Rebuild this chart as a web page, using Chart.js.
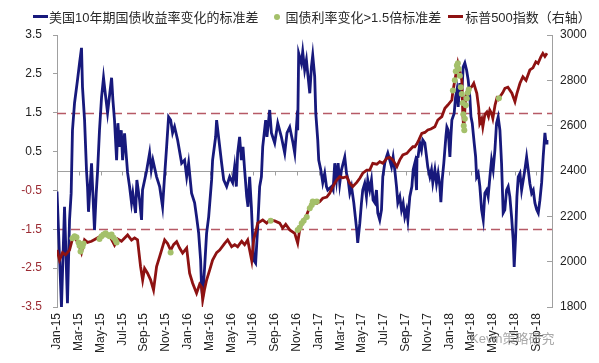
<!DOCTYPE html>
<html>
<head>
<meta charset="utf-8">
<script src="https://cdn.jsdelivr.net/npm/chart.js@4.4.1/dist/chart.umd.min.js"></script>
<style>
  body { margin: 0; background: #fff; }
  #wrap { position: relative; width: 599px; height: 363px; }
  #legend {
    position: absolute; top: 7px; left: 33px;
    display: flex; align-items: center;
    font: 13px "Liberation Sans", Arial, "Noto Sans CJK SC", sans-serif; color: #2a2a2a;
    white-space: nowrap;
  }
  #legend .item { display: flex; align-items: center; }
  #legend .line { display: inline-block; width: 15px; height: 3px; margin-right: 1px; }
  #legend .dot { display: inline-block; width: 6px; height: 6px; border-radius: 50%; margin: 0 5px 0 16px; }
  #legend .line.spx { margin-left: 7px; margin-right: 2px; }
  #mark {
    position: absolute; left: 470px; top: 328px;
    font: 13px "Liberation Sans", Arial, "Noto Sans CJK SC", sans-serif; color: rgba(140,140,140,0.75);
  }
</style>
</head>
<body>
<div id="wrap">
  <canvas id="chart" width="599" height="363"></canvas>
  <div id="legend"></div>
  <div id="mark">Kevin策略研究</div>
</div>
<script>
// months since Jan-2015
const monthLabels = ["Jan-15","Mar-15","May-15","Jul-15","Sep-15","Nov-15","Jan-16","Mar-16","May-16","Jul-16","Sep-16","Nov-16",
    "Jan-17","Mar-17","May-17","Jul-17","Sep-17","Nov-17","Jan-18","Mar-18","May-18","Jul-18","Sep-18"];
const leftTicks = [-3.5, -2.5, -1.5, -0.5, 0.5, 1.5, 2.5, 3.5];
const bandLevels = [1.5, -1.5];

const seriesNames = ["美国10年期国债收益率变化的标准差", "国债利率变化>1.5倍标准差", "标普500指数（右轴）"];

// 美国10年期国债收益率变化的标准差
const stdT = [0,0.41,0.69,0.96,1.15,1.30,1.42,1.61,1.88,2.07,2.25,2.34,2.53,2.71,2.80,2.89,3.17,3.29,3.44,3.60,3.72,3.90,4.09,4.27,4.43,4.64,
    5.01,5.13,5.28,5.47,5.59,5.74,5.90,6.02,6.20,6.48,6.66,6.84,6.96,7.21,7.33,7.58,7.76,7.85,8.22,8.50,8.65,8.80,9.14,9.42,9.69,9.87,
    10.06,10.24,10.43,10.61,10.79,11.07,11.44,11.71,11.90,12.08,12.35,12.63,12.81,13.00,13.18,13.27,13.37,13.55,13.73,13.92,14.19,14.28,
    14.56,14.65,14.86,15.11,15.30,15.57,15.85,16.12,16.30,16.46,16.58,16.76,16.92,17.07,17.22,17.41,17.53,17.68,17.84,18.05,18.23,18.42,
    18.60,18.76,18.88,19.15,19.27,19.52,19.68,19.98,20.26,20.59,20.90,21.11,21.36,21.66,21.82,22.00,22.09,22.18,22.27,22.43,22.55,22.73,
    22.89,23.01,23.20,23.35,23.47,23.65,23.75,23.93,24.02,24.21,24.39,24.57,24.73,24.85,25.19,25.34,25.49,25.65,25.80,25.95,26.11,26.41,
    26.57,26.72,26.87,27.03,27.24,27.51,27.60,27.79,27.94,28.06,28.24,28.40,28.52,28.70,28.86,29.01,29.17,29.32,29.44,29.62,29.78,29.90,
    30.08,30.24,30.36,30.54,30.70,30.85,31.00,31.16,31.28,31.46,31.62,31.77,31.92,32.08,32.20,32.38,32.57,32.69,32.84,33.00,33.04,33.14,
    33.30,33.45,33.57,33.76,33.92,34.03,34.22,34.37,34.49,34.68,34.83,34.98,35.14,35.23,35.35,35.50,35.69,35.78,35.90,36.06,36.15,36.24,
    36.45,36.58,36.70,36.82,36.97,37.13,37.28,37.43,37.59,37.74,37.89,37.99,38.11,38.29,38.42,38.51,38.66,38.81,38.97,39.12,39.27,39.43,
    39.57,39.73,39.88,40.03,40.19,40.34,40.49,40.65,40.80,40.95,41.10,41.26,41.41,41.56,41.72,41.87,41.96,42.09,42.21,42.33,42.49,42.64,
    42.79,42.94,43.10,43.25,43.40,43.56,43.71,43.86,44.02,44.17,44.32,44.48,44.62,44.78,44.88,44.97];
const stdV = [-0.53,-3.5,-0.92,-3.4,-1.26,-0.57,1.05,1.75,2.34,2.78,3.17,2.16,1.31,0,-0.4,-1.05,0.2,-0.57,-1.52,-0.57,-0.03,1.05,1.9,2.4,2.0,1.5,
    2.4,1.83,1.3,0.28,1.23,0.62,1.05,0.28,0.97,-0.05,-0.4,-0.82,-0.57,-1.08,-0.23,-0.75,-1.26,-0.49,0,0.46,0.03,0.28,-0.15,-0.4,-0.92,-0.15,
    0.62,1.39,1.31,0.98,1.14,0.8,0.2,0.28,-0.15,0.2,-0.57,-0.82,-1.18,-1.6,-2.29,-2.98,-3.24,-2.47,-1.6,-1.18,-0.23,0.28,
    0.88,1.31,0.8,0.2,-0.23,-0.4,-0.15,-0.3,0.11,-0.4,0.46,0.88,0.28,0.62,0.03,-0.66,-0.92,-0.15,-0.92,-2.29,-2.37,-1.44,
    -0.4,-0.15,0.62,1.31,0.88,1.57,0.98,0.72,1.23,0.88,0.46,0.98,1.13,0.72,0.46,1.23,1.05,3.03,2.94,2.77,3.07,2.6,
    2.86,2.52,2.0,2.68,2.98,2.43,1.49,0.8,0.28,0.03,-0.3,-0.06,-0.4,-0.49,-0.4,-0.49,0.2,-0.23,0.2,-0.32,0.03,0.36,
    -0.06,-0.23,-0.57,-0.4,-0.82,-1.52,-1.85,-1.35,-0.83,-0.49,-0.32,-0.66,-0.23,-0.49,-0.23,-0.75,-0.82,-0.49,-1.08,-1.26,-1.0,-0.15,
    0.2,0.36,0.46,0.28,0.11,0.36,0.03,-0.4,-0.82,-0.66,-1.0,-0.83,-1.18,-1.0,-1.26,-0.66,-0.4,0.03,0.2,-0.49,0.36,0.37,
    0.72,0.54,0.8,0.72,0.36,0.1,-0.15,0.03,-0.3,0.03,-0.32,-0.06,-0.4,-0.8,-0.23,0.2,0.88,1.13,1.05,0.36,0.88,1.31,
    1.48,1.9,2.08,1.65,2.26,1.9,2.68,2.78,2.6,2.34,1.9,1.4,1.23,0.72,0.37,-0.15,-0.06,-0.4,-1.0,-1.26,-0.57,-0.49,
    -0.66,-0.15,0.28,0.03,0.54,1.23,1.39,1.05,0.2,-1.08,-1.0,-0.49,-0.4,-0.66,-1.18,-1.78,-2.47,-1.69,-0.66,-0.15,-0.06,-0.49,
    -0.23,0.03,0.36,0.03,-0.32,-0.57,-0.49,-0.82,-0.99,-1.08,-0.75,-0.3,0.36,0.98,0.72,0.8];

// 标普500指数
const spxT = [0,0.23,0.51,0.78,1.15,1.42,1.61,1.79,2.07,2.25,2.53,2.80,3.17,3.54,3.90,4.36,4.82,5.28,5.56,5.92,6.48,6.84,7.12,7.39,7.67,
    7.86,8.04,8.31,8.59,8.86,9.14,9.42,9.88,10.15,10.43,10.70,10.98,11.25,11.53,11.90,12.17,12.45,12.81,13.09,13.27,13.37,13.55,13.73,
    14.01,14.28,14.65,14.93,15.39,15.66,16.03,16.31,16.58,16.95,17.22,17.50,17.87,18.05,18.23,18.42,18.88,19.24,19.52,19.98,20.44,20.71,
    20.99,21.36,21.82,22.09,22.27,22.55,22.92,23.20,23.47,23.84,24.11,24.39,24.76,25.03,25.31,25.67,25.95,26.23,26.59,26.87,27.14,27.51,
    27.79,28.06,28.43,28.70,28.98,29.35,29.62,29.90,30.27,30.54,30.82,31.19,31.46,31.74,32.11,32.38,32.66,32.84,33.03,33.21,33.48,33.76,
    34.03,34.31,34.68,34.95,35.32,35.60,35.87,36.24,36.33,36.79,37.15,37.24,37.33,37.43,37.52,37.70,38.07,38.25,38.53,38.70,38.80,38.98,
    39.08,39.27,39.45,39.60,39.72,39.88,40.00,40.20,40.37,40.50,40.65,40.90,41.11,41.38,41.75,42.03,42.20,42.49,42.76,43.05,43.40,43.68,
    43.95,44.15,44.41,44.59,44.78,44.97];
const spxV = [2052,2007,2040,2030,2051,2100,2110,2095,2066,2040,2096,2085,2090,2100,2110,2125,2115,2073,2100,2090,2118,2095,2105,2096,1978,
    1919,1970,1949,1920,1875,1978,2022,2096,2080,2050,2075,2088,2060,2038,2060,1949,1905,1861,1900,1888,1831,1880,1919,
    1963,2007,2040,2051,2081,2096,2066,2075,2066,2090,2075,2096,2005,2096,2130,2170,2184,2170,2184,2180,2170,2148,
    2165,2140,2125,2082,2140,2176,2206,2243,2265,2257,2265,2280,2285,2302,2331,2360,2375,2370,2375,2346,2331,2350,
    2368,2390,2404,2404,2434,2430,2441,2434,2456,2460,2449,2419,2449,2471,2478,2493,2507,2507,2520,2537,2566,2570,
    2581,2585,2595,2625,2640,2677,2691,2713,2750,2875,2801,2656,2581,2670,2730,2757,2772,2787,2743,2680,2610,2630,
    2595,2650,2660,2640,2669,2655,2632,2690,2721,2715,2728,2745,2765,2770,2743,2706,2740,2787,2816,2800,2846,2855,
    2882,2875,2904,2919,2905,2919];

// 国债利率变化>1.5倍标准差 (点落在标普500上)
const jumpT = [1.42,1.61,1.79,1.98,2.07,2.16,2.34,2.43, 3.90,4.09,4.27,4.46,4.64,4.82,5.01,5.19,5.37,5.47, 10.43, 19.61,
    22.09,22.27,22.46,22.64,22.92,23.20,23.38,23.47,23.65,23.84,
    36.33,36.51,36.60,36.70,36.79,36.88,36.97,37.06,37.15,37.24,37.29,37.33,37.38,37.43,37.52,37.61,37.70,37.79, 40.56];
const jumpV = [2103,2112,2108,2085,2070,2045,2066,2080, 2100,2112,2120,2125,2118,2112,2120,2105,2095,2085, 2040, 2180,
    2140,2150,2170,2180,2197,2236,2250,2265,2262,2265,
    2755,2800,2840,2865,2875,2850,2820,2770,2740,2700,2650,2600,2580,2630,2690,2720,2745,2760, 2721];

const colors = { std: "#17197c", jump: "#a4c06a", spx: "#8e1212" };

function pairs(t, v) {
    return t.map((x, i) => ({ x: x, y: v[i] }));
}

// legend
let legend = document.getElementById("legend");
legend.innerHTML = `
    <span class="item"><span class="line" style="background:${colors.std}"></span>${seriesNames[0]}</span>
    <span class="item"><span class="dot" style="background:${colors.jump}"></span>${seriesNames[1]}</span>
    <span class="item"><span class="line spx" style="background:${colors.spx}"></span>${seriesNames[2]}</span>`;

const refLines = {
    id: "refLines",
    beforeDatasetsDraw(chart) {
        const { ctx, chartArea: a, scales } = chart;
        const x = scales.x, y = scales.y;
        ctx.save();
        let y0 = Math.round(y.getPixelForValue(0)) + 0.5;
        ctx.strokeStyle = "#a0a0a0";
        ctx.lineWidth = 1;
        ctx.beginPath();
        ctx.moveTo(a.left, y0);
        ctx.lineTo(a.right, y0);
        x.ticks.forEach(t => {
            let px = Math.round(x.getPixelForValue(t.value)) + 0.5;
            ctx.moveTo(px, y0);
            ctx.lineTo(px, y0 + 4);
        });
        ctx.stroke();
        ctx.setLineDash([9, 5]);
        ctx.strokeStyle = "#b65a66";
        ctx.lineWidth = 1.3;
        bandLevels.forEach(v => {
            let py = Math.round(y.getPixelForValue(v)) + 0.5;
            ctx.beginPath();
            ctx.moveTo(a.left, py);
            ctx.lineTo(a.right, py);
            ctx.stroke();
        });
        ctx.restore();
    }
};

const font = { family: '"Liberation Sans", Arial, sans-serif', size: 12 };

new Chart(document.getElementById("chart").getContext("2d"), {
    type: "line",
    data: {
        datasets: [
            {
                label: seriesNames[1],
                type: "scatter",
                data: pairs(jumpT, jumpV),
                yAxisID: "y1",
                backgroundColor: colors.jump,
                borderWidth: 0,
                pointRadius: 3,
                order: 0
            },
            {
                label: seriesNames[2],
                data: pairs(spxT, spxV),
                yAxisID: "y1",
                borderColor: colors.spx,
                borderWidth: 2.8,
                pointRadius: 0,
                tension: 0,
                order: 1
            },
            {
                label: seriesNames[0],
                data: pairs(stdT, stdV),
                yAxisID: "y",
                borderColor: colors.std,
                borderWidth: 2.8,
                pointRadius: 0,
                tension: 0,
                order: 2
            }
        ]
    },
    options: {
        responsive: false,
        animation: false,
        layout: { padding: { top: 35, left: 0, right: 0, bottom: 0 } },
        plugins: {
            legend: { display: false },
            tooltip: { enabled: false }
        },
        scales: {
            x: {
                type: "linear",
                min: 0,
                max: 45.43,
                afterBuildTicks: s => { s.ticks = monthLabels.map((l, i) => ({ value: i * 2 })); },
                afterFit: s => { s.height = 56; },
                grid: { display: false, drawTicks: false },
                border: { display: false },
                ticks: {
                    minRotation: 90,
                    maxRotation: 90,
                    autoSkip: false,
                    padding: 6,
                    color: "#222",
                    font: font,
                    callback: v => monthLabels[v / 2]
                }
            },
            y: {
                position: "left",
                min: -3.5,
                max: 3.5,
                afterBuildTicks: s => { s.ticks = leftTicks.map(v => ({ value: v })); },
                afterFit: s => { s.width = 57; },
                grid: { drawOnChartArea: false, tickLength: 4, color: "#a0a0a0" },
                border: { color: "#a0a0a0" },
                ticks: {
                    padding: 11,
                    font: font,
                    color: c => c.tick.value < 0 ? "#9b2b33" : "#222",
                    callback: v => v.toFixed(1)
                }
            },
            y1: {
                position: "right",
                min: 1800,
                max: 3000,
                afterFit: s => { s.width = 47; },
                grid: { drawOnChartArea: false, tickLength: -5, color: "#a0a0a0" },
                border: { color: "#a0a0a0" },
                ticks: { stepSize: 200, padding: 13, font: font, color: "#222", callback: v => String(v) }
            }
        }
    },
    plugins: [refLines]
});
</script>
</body>
</html>
